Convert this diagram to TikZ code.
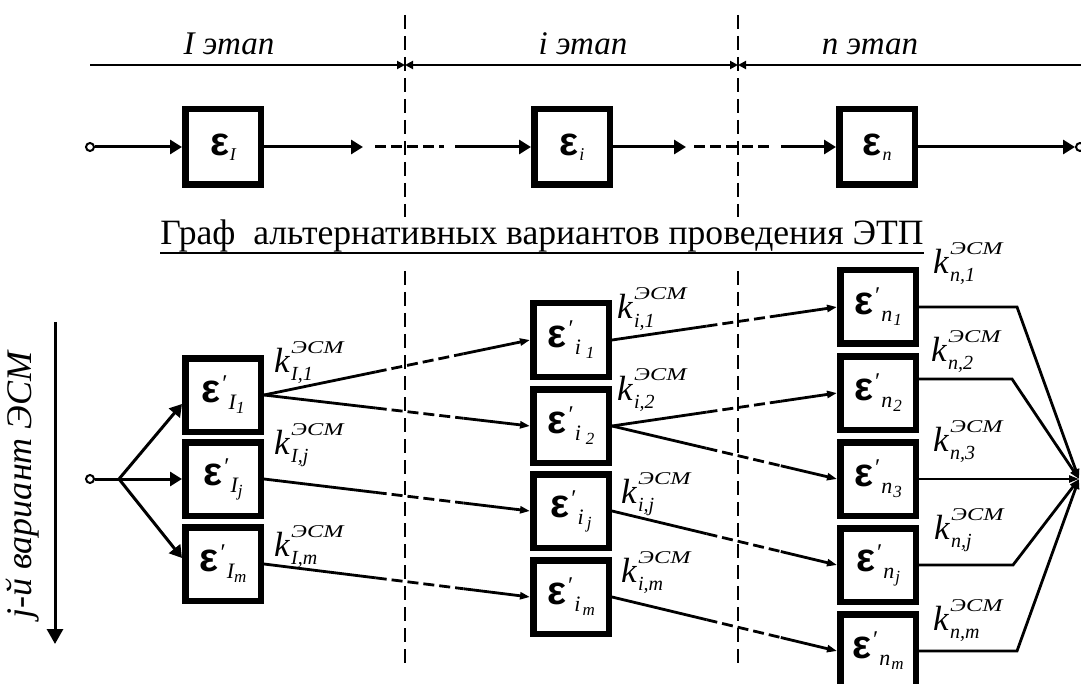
\documentclass[tikz,border=0pt]{standalone}
\usepackage{fontspec}
\setmainfont{Liberation Serif}
\newfontfamily\epsf{Liberation Sans}
\usetikzlibrary{arrows.meta,calc}
\newcommand{\fs}[1]{\fontsize{#1}{#1}\selectfont}
\newcommand{\etop}[1]{{\epsf\bfseries\fs{40}ε}\kern1pt\raisebox{-5pt}{\fs{18}\itshape #1}}
\newcommand{\eb}[3]{{\epsf\bfseries\fs{40}ε}\kern2pt\raisebox{11pt}{\fs{24}′}\kern1pt\raisebox{-7pt}{\fs{22}\itshape #1}\kern#3\raisebox{-11pt}{\fs{17}\itshape #2}}
\newcommand{\klab}[4]{%
  \node[kf] (#1) at (#2,#3) {k};
  \node[supf] (#1s) at ([xshift=1pt,yshift=19pt]#1.base east) {\scalebox{1.35}[1]{ЭСМ}};
  \node[subf] (#1b) at ([xshift=1pt,yshift=-8pt]#1.base east) {#4};
}
\newcommand{\lnk}[2]{%
  \draw[conn] (#1.east) -- ($(#1.east)!0.42!(#2.west)$);
  \draw[conn,dpat] ($(#1.east)!0.42!(#2.west)$) -- ($(#1.east)!0.75!(#2.west)$);
  \draw[conn,smalltip] ($(#1.east)!0.75!(#2.west)$) -- (#2.west);
}
\tikzset{dtip/.tip={Triangle[length=8pt,width=8pt]}}
\begin{document}
\begin{tikzpicture}[x=1pt,y=-1pt,
  box/.style={draw, line width=6.5pt, minimum width=75.5pt, minimum height=73.5pt, inner sep=0pt},
  tbox/.style={box, minimum height=75.5pt},
  sig/.style={line width=3pt},
  bigtip/.style={-{Triangle[length=12pt,width=14pt]}},
  conn/.style={line width=2.8pt},
  smalltip/.style={-{Triangle[length=10pt,width=7pt]}},
  dpat/.style={dash pattern=on 11pt off 5pt},
  vdash/.style={line width=1.8pt, dash pattern=on 14pt off 7pt},
  dim/.style={line width=2.5pt},
  stage/.style={font=\fs{33}\itshape, anchor=base, inner sep=0pt},
  kf/.style={font=\fs{35}\itshape, inner sep=0pt, anchor=base west},
  supf/.style={font=\fs{18}\itshape, inner sep=0pt, anchor=base west},
  subf/.style={font=\fs{20}\itshape, inner sep=0pt, anchor=base west},
  pin/.style={draw, circle, line width=2pt, minimum size=8pt, inner sep=0pt, fill=white},
]
\useasboundingbox (0,0) rectangle (1081,684);

% stage dimension line
\coordinate (d0) at (90,65);
\coordinate (d1) at (405,65);
\coordinate (d2) at (738,65);
\coordinate (d3) at (1081,65);
\draw[dim,-dtip] (d0) -- (d1);
\draw[dim,dtip-dtip] (d1) -- (d2);
\draw[dim,dtip-] (d2) -- (d3);
\node[stage] (s1) at (229,55) {I этап};
\node[stage] (s2) at (583,55) {i этап};
\node[stage] (s3) at (870,55) {n этап};

% vertical dashed separators
\coordinate (v1a) at (405,15);
\coordinate (v1b) at (405,217);
\coordinate (v1c) at (405,271);
\coordinate (v1d) at (405,668);
\coordinate (v2a) at (738,15);
\coordinate (v2b) at (738,217);
\coordinate (v2c) at (738,271);
\coordinate (v2d) at (738,668);
\draw[vdash] (v1a) -- (v1b);
\draw[vdash] (v1c) -- (v1d);
\draw[vdash] (v2a) -- (v2b);
\draw[vdash] (v2c) -- (v2d);

% top chain
\node[pin] (in0) at (90,147) {};
\node[tbox] (eI) at (223,147) {\etop{I}};
\node[tbox] (ei) at (572,147) {\etop{i}};
\node[tbox] (en) at (877,147) {\etop{n}};
\node[pin] (out0) at (1080,147) {};
\coordinate (a1) at (363,147);
\coordinate (a2) at (375,147);
\coordinate (a3) at (444,147);
\coordinate (a4) at (455,147);
\coordinate (b1) at (686,147);
\coordinate (b2) at (694,147);
\coordinate (b3) at (774,147);
\coordinate (b4) at (781,147);
\draw[sig,bigtip] (in0) -- (eI);
\draw[sig,bigtip] (eI) -- (a1);
\draw[sig,dpat] (a2) -- (a3);
\draw[sig,bigtip] (a4) -- (ei);
\draw[sig,bigtip] (ei) -- (b1);
\draw[sig,dpat] (b2) -- (b3);
\draw[sig,bigtip] (b4) -- (en);
\draw[sig,bigtip] (en) -- (out0);

% title
\node[font=\fs{35.6}, inner sep=0pt, anchor=base] (title) at (542,245) {Граф~~альтернативных вариантов проведения ЭТП};
\draw[line width=1.8pt] ([yshift=-8pt]title.base west) -- ([yshift=-8pt]title.base east);

% vertical label and arrow
\coordinate (va) at (55,322);
\coordinate (vb) at (55,644);
\draw[sig,-{Triangle[length=15pt,width=16pt]}] (va) -- (vb);
\node[font=\fs{36}\itshape, rotate=90, inner sep=0pt] (vl) at (23,485) {j-й вариант ЭСМ};

% graph boxes
\node[box] (I1) at (223,395) {\eb{I}{1}{0pt}};
\node[box] (Ij) at (223,479) {\eb{I}{j}{0pt}};
\node[box] (Im) at (223,564) {\eb{I}{m}{0pt}};
\node[box] (i1) at (571,340) {\eb{i}{1}{5pt}};
\node[box] (i2) at (571,426) {\eb{i}{2}{5pt}};
\node[box] (ij) at (571,511) {\eb{i}{j}{3pt}};
\node[box] (im) at (571,597) {\eb{i}{m}{2pt}};
\node[box] (n1) at (878,307) {\eb{n}{1}{1pt}};
\node[box] (n2) at (878,393) {\eb{n}{2}{1pt}};
\node[box] (n3) at (878,479) {\eb{n}{3}{1pt}};
\node[box] (nj) at (878,565) {\eb{n}{j}{1pt}};
\node[box] (nm) at (878,651) {\eb{n}{m}{1pt}};

% input branching
\node[pin] (in1) at (90,479) {};
\coordinate (br) at (119,479);
\draw[sig] (in1) -- (br);
\draw[sig,bigtip] (br) -- ([yshift=-9pt]I1.west);
\draw[sig,bigtip] (br) -- (Ij.west);
\draw[sig,bigtip] (br) -- ([yshift=6pt]Im.west);

% links
\lnk{I1}{i1}
\lnk{I1}{i2}
\lnk{Ij}{ij}
\lnk{Im}{im}
\lnk{i1}{n1}
\lnk{i2}{n2}
\lnk{i2}{n3}
\lnk{ij}{nj}
\lnk{im}{nm}

% convergence
\coordinate (conv) at (1079,479);
\draw[conn,smalltip] (n1.east) -- ++(98,0) -- (conv);
\draw[conn,smalltip] ([yshift=14pt]n2.east) -- ++(93,0) -- (conv);
\draw[conn,smalltip] (n3.east) -- (conv);
\draw[conn,smalltip] (nj.east) -- ++(94,0) -- (conv);
\draw[conn,smalltip] (nm.east) -- ++(98,0) -- (conv);

% k labels
\klab{kI1}{274}{372}{I,1}
\klab{kIj}{274}{454}{I,j}
\klab{kIm}{274}{556}{I,m}
\klab{ki1}{617}{319}{i,1}
\klab{ki2}{617}{400}{i,2}
\klab{kij}{621}{503}{i,j}
\klab{kim}{621}{582}{i,m}
\klab{kn1}{933}{274}{n,1}
\klab{kn2}{931}{362}{n,2}
\klab{kn3}{933}{451}{n,3}
\klab{knj}{934}{539}{n,j}
\klab{knm}{933}{630}{n,m}
\end{tikzpicture}
\end{document}
